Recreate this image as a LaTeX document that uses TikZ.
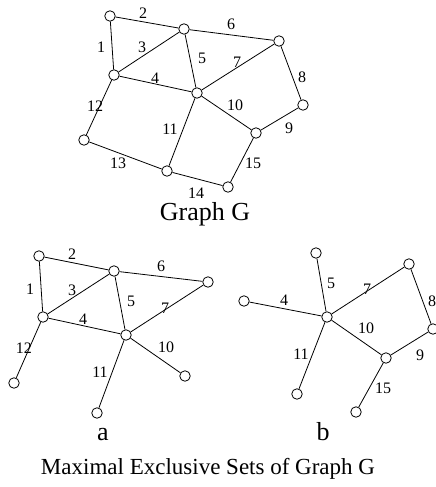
\documentclass[tikz,border=0pt]{standalone}
\usepackage{fontspec}
\setmainfont{Liberation Serif}
\begin{document}
\begin{tikzpicture}[x=1pt,y=-1pt,
  vtx/.style={circle,draw,line width=0.8pt,minimum size=10.5pt,inner sep=0pt,fill=white},
  edge/.style={line width=0.8pt},
  elab/.style={inner sep=0pt,font=\fontsize{16}{16}\selectfont},
  big/.style={inner sep=0pt,font=\fontsize{26}{26}\selectfont},
  captxt/.style={inner sep=0pt,font=\fontsize{23}{23}\selectfont}]
\useasboundingbox (0,0) rectangle (436,487);
% Graph G
\node[vtx] (A) at (110,16) {};
\node[vtx] (B) at (184,29) {};
\node[vtx] (C) at (279,41) {};
\node[vtx] (D) at (114,75) {};
\node[vtx] (E) at (197,93) {};
\node[vtx] (F) at (303,105) {};
\node[vtx] (G) at (84,140) {};
\node[vtx] (H) at (256,133) {};
\node[vtx] (I) at (167,171) {};
\node[vtx] (J) at (228,187) {};
\draw[edge] (A)--(D) (A)--(B) (D)--(B) (D)--(E) (B)--(E) (B)--(C) (E)--(C)
  (C)--(F) (F)--(H) (E)--(H) (E)--(I) (D)--(G) (G)--(I) (I)--(J) (J)--(H);
\node[elab] (l1) at (101,47) {1};
\node[elab] (l2) at (143,13) {2};
\node[elab] (l3) at (142,47) {3};
\node[elab] (l4) at (155,78) {4};
\node[elab] (l5) at (202,58) {5};
\node[elab] (l6) at (231,24) {6};
\node[elab] (l7) at (237,62) {7};
\node[elab] (l8) at (302,77) {8};
\node[elab] (l9) at (289,128) {9};
\node[elab] (l10) at (235,105) {10};
\node[elab] (l11) at (170,129) {11};
\node[elab] (l12) at (95,106) {12};
\node[elab] (l13) at (118,163) {13};
\node[elab] (l14) at (196,193) {14};
\node[elab] (l15) at (253,163) {15};
\node[big] (tG) at (205,214) {Graph G};
% Set a
\node[vtx] (a1) at (39,256) {};
\node[vtx] (a2) at (114,271) {};
\node[vtx] (a3) at (208,282) {};
\node[vtx] (a4) at (43,317) {};
\node[vtx] (a5) at (126,335) {};
\node[vtx] (a6) at (14,383) {};
\node[vtx] (a7) at (185,376) {};
\node[vtx] (a8) at (97,413) {};
\draw[edge] (a1)--(a4) (a1)--(a2) (a4)--(a2) (a4)--(a5) (a2)--(a5) (a2)--(a3)
  (a5)--(a3) (a5)--(a7) (a5)--(a8) (a4)--(a6);
\node[elab] (m2) at (72,254) {2};
\node[elab] (m6) at (161,266) {6};
\node[elab] (m1) at (30,289) {1};
\node[elab] (m3) at (72,290) {3};
\node[elab] (m5) at (131,301) {5};
\node[elab] (m7) at (165,308) {7};
\node[elab] (m4) at (83,319) {4};
\node[elab] (m12) at (24,348) {12};
\node[elab] (m10) at (166,347) {10};
\node[elab] (m11) at (100,372) {11};
\node[big] (ta) at (103,435) {a};
% Set b
\node[vtx] (b1) at (316,253) {};
\node[vtx] (b2) at (409,264) {};
\node[vtx] (b3) at (244,301) {};
\node[vtx] (b4) at (327,317) {};
\node[vtx] (b5) at (433,329) {};
\node[vtx] (b6) at (386,358) {};
\node[vtx] (b7) at (297,394) {};
\node[vtx] (b8) at (356,412) {};
\draw[edge] (b3)--(b4) (b1)--(b4) (b4)--(b2) (b2)--(b5) (b5)--(b6) (b4)--(b6)
  (b4)--(b7) (b6)--(b8);
\node[elab] (n5) at (331,283) {5};
\node[elab] (n7) at (367,289) {7};
\node[elab] (n4) at (284,300) {4};
\node[elab] (n8) at (432,301) {8};
\node[elab] (n10) at (366,328) {10};
\node[elab] (n9) at (420,355) {9};
\node[elab] (n11) at (301,354) {11};
\node[elab] (n15) at (383,388) {15};
\node[big] (tb) at (323,432) {b};
\node[captxt] (caption) at (208,469) {Maximal Exclusive Sets of Graph G};
\end{tikzpicture}
\end{document}
